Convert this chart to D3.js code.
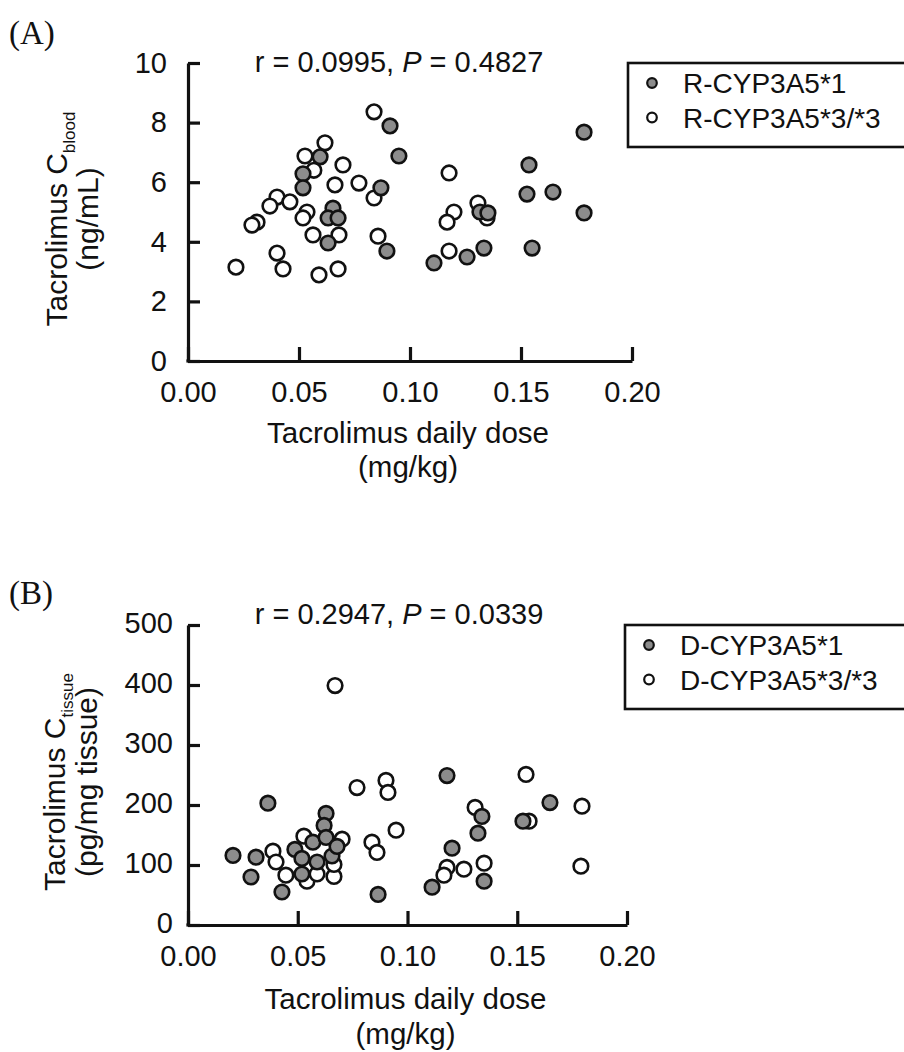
<!DOCTYPE html>
<html>
<head>
<meta charset="utf-8">
<script src="https://cdn.jsdelivr.net/npm/d3@7"></script>
<style>
  html, body { margin: 0; padding: 0; background: #fff; }
  svg { display: block; }
  text { font-family: "Liberation Sans", Arial, sans-serif; fill: #111; }
</style>
</head>
<body>
<svg id="chart" width="904" height="1052"></svg>
<script>
// ---------- DATA ----------
// Panel A: recipient genotype, blood concentration (ng/mL) vs daily dose (mg/kg)
const doseA_star1 = [0.0595,0.0518,0.0518,0.0653,0.0631,0.0676,0.0631,0.0910,0.0950,0.0869,0.0896,0.1108,0.1257,0.1333,0.1315,0.1351,0.1536,0.1527,0.1644,0.1550,0.1784,0.1784];
const concA_star1 = [6.85,6.28,5.81,5.13,4.80,4.80,3.96,7.89,6.88,5.81,3.69,3.29,3.49,3.79,5.00,4.97,6.58,5.60,5.67,3.79,7.68,4.97];
const doseA_star3 = [0.0617,0.0527,0.0567,0.0662,0.0401,0.0459,0.0369,0.0536,0.0518,0.0311,0.0288,0.0563,0.0401,0.0428,0.0216,0.0590,0.0676,0.0680,0.0838,0.0698,0.0770,0.0838,0.0856,0.1176,0.1306,0.1198,0.1167,0.1347,0.1176];
const concA_star3 = [7.32,6.88,6.40,5.91,5.50,5.34,5.20,5.00,4.80,4.66,4.56,4.23,3.62,3.09,3.15,2.89,3.09,4.23,8.36,6.58,5.97,5.47,4.19,6.31,5.30,5.00,4.66,4.80,3.69];

// Panel B: donor genotype, tissue concentration (pg/mg tissue) vs daily dose (mg/kg)
const doseB_star1 = [0.0364,0.0205,0.0310,0.0287,0.0428,0.0487,0.0569,0.0519,0.0519,0.0588,0.0629,0.0620,0.0629,0.0656,0.0679,0.0866,0.1180,0.1203,0.1112,0.1339,0.1321,0.1349,0.1526,0.1649];
const concB_star1 = [203,116,113,80,55,126,138,111,85,105,186,166,146,115,131,51,249,128,63,181,153,73,173,204];
const doseB_star3 = [0.0670,0.0387,0.0401,0.0446,0.0528,0.0542,0.0588,0.0665,0.0702,0.0665,0.0770,0.0902,0.0911,0.0948,0.0838,0.0861,0.1180,0.1166,0.1257,0.1308,0.1349,0.1540,0.1554,0.1795,0.1790];
const concB_star3 = [399,123,105,83,148,73,85,81,143,101,229,241,221,158,138,121,96,83,93,196,103,251,173,198,98];

const xTicks = [0, 0.05, 0.10, 0.15, 0.20];
const yTicksA = [0, 2, 4, 6, 8, 10];
const yTicksB = [0, 100, 200, 300, 400, 500];
const legendA = ["R-CYP3A5*1", "R-CYP3A5*3/*3"];
const legendB = ["D-CYP3A5*1", "D-CYP3A5*3/*3"];

// ---------- DRAW ----------
const svg = d3.select("#chart");
const FILL = "#8c8c8c";

function zip(xs, ys) { return xs.map((x, i) => ({ x: x, y: ys[i] })); }

function panel(cfg) {
  const x = d3.scaleLinear().domain([0, 0.2]).range([cfg.x0, cfg.x1]);
  const y = d3.scaleLinear().domain(cfg.yDomain).range([cfg.yb, cfg.yt]);
  const g = svg.append("g");

  // panel letter
  g.append("text").attr("x", 9).attr("y", cfg.letterY)
    .style("font-family", "'Liberation Serif', 'Times New Roman', serif")
    .style("font-size", "33px").text(cfg.letter);

  // y axis
  const ya = g.append("g").attr("transform", `translate(${cfg.x0},0)`)
    .call(d3.axisLeft(y).tickValues(cfg.yTicks).tickSizeInner(-12).tickSizeOuter(0)
      .tickPadding(cfg.yPad).tickFormat(d3.format("d")));
  ya.selectAll(".tick text").attr("dy", cfg.yDy);
  // x axis
  const xa = g.append("g").attr("transform", `translate(0,${cfg.yb})`)
    .call(d3.axisBottom(x).tickValues(xTicks).tickSizeInner(-14).tickSizeOuter(0)
      .tickPadding(cfg.xPad).tickFormat(d3.format(".2f")));
  [ya, xa].forEach(a => {
    a.select(".domain").attr("stroke", "#111").attr("stroke-width", 3.2);
    a.selectAll(".tick line").attr("stroke", "#111").attr("stroke-width", 3.2);
    a.selectAll("text").style("font-size", "29px").attr("fill", "#111")
      .style("font-family", "'Liberation Sans', Arial, sans-serif");
  });
  // clean corner
  g.append("line").attr("x1", cfg.x0 - 1.6).attr("x2", cfg.x0 + 1.6)
    .attr("y1", cfg.yb).attr("y2", cfg.yb).attr("stroke", "#111").attr("stroke-width", 3.2);

  // title
  const t = g.append("text").attr("x", 399).attr("y", cfg.titleY).attr("text-anchor", "middle")
    .style("font-size", "29px");
  t.append("tspan").text(cfg.titleR + ", ");
  t.append("tspan").style("font-style", "italic").text("P");
  t.append("tspan").text(" = " + cfg.titleP);

  // x label
  const cx = (cfg.x0 + cfg.x1) / 2 - 2;
  g.append("text").attr("x", cx).attr("y", cfg.xl1).attr("text-anchor", "middle")
    .style("font-size", "29.5px").text("Tacrolimus daily dose");
  g.append("text").attr("x", cx).attr("y", cfg.xl2).attr("text-anchor", "middle")
    .style("font-size", "29.5px").text("(mg/kg)");

  // y label
  const yl = g.append("text").attr("transform", `translate(${cfg.yl1},${cfg.ylc}) rotate(-90)`)
    .attr("text-anchor", "middle").style("font-size", "30px");
  yl.append("tspan").text("Tacrolimus C");
  yl.append("tspan").attr("dy", 8).style("font-size", "17px").text(cfg.sub);
  g.append("text").attr("transform", `translate(${cfg.yl2},${cfg.ylc}) rotate(-90)`)
    .attr("text-anchor", "middle").style("font-size", "30px").text(cfg.unit);

  // points
  const pts = g.append("g");
  pts.selectAll("circle.o").data(zip(cfg.dose3, cfg.conc3)).join("circle")
    .attr("class", "o").attr("cx", d => x(d.x)).attr("cy", d => y(d.y)).attr("r", 7.3)
    .attr("fill", "#fff").attr("stroke", "#111").attr("stroke-width", 2.6);
  pts.selectAll("circle.f").data(zip(cfg.dose1, cfg.conc1)).join("circle")
    .attr("class", "f").attr("cx", d => x(d.x)).attr("cy", d => y(d.y)).attr("r", 7.3)
    .attr("fill", FILL).attr("stroke", "#111").attr("stroke-width", 2.6);

  // legend
  const lg = g.append("g");
  lg.append("rect").attr("x", cfg.lgX).attr("y", cfg.lgY).attr("width", 290).attr("height", 84)
    .attr("fill", "none").attr("stroke", "#111").attr("stroke-width", 2.6);
  cfg.legend.forEach((lab, i) => {
    const cy = cfg.lgY + 20 + i * 34.5;
    lg.append("circle").attr("cx", cfg.lgX + 24).attr("cy", cy).attr("r", 4.8)
      .attr("fill", i === 0 ? FILL : "#fff").attr("stroke", "#111").attr("stroke-width", 2.2);
    lg.append("text").attr("x", cfg.lgX + 55).attr("y", cy + 10).style("font-size", "28px").text(lab);
  });
}

panel({
  letter: "(A)", letterY: 44,
  x0: 188, x1: 632, yt: 63, yb: 361, yDomain: [0, 10], yTicks: yTicksA,
  yPad: 21, xPad: 20, yDy: "0.32em",
  titleR: "r = 0.0995", titleP: "0.4827", titleY: 72,
  xl1: 443, xl2: 477,
  yl1: 67, yl2: 98, ylc: 219, sub: "blood", unit: "(ng/mL)",
  dose1: doseA_star1, conc1: concA_star1, dose3: doseA_star3, conc3: concA_star3,
  legend: legendA, lgX: 628, lgY: 63
});

panel({
  letter: "(B)", letterY: 604,
  x0: 188, x1: 627, yt: 625, yb: 925, yDomain: [0, 500], yTicks: yTicksB,
  yPad: 15, xPad: 20, yDy: "0.27em",
  titleR: "r = 0.2947", titleP: "0.0339", titleY: 624,
  xl1: 1009, xl2: 1044,
  yl1: 65, yl2: 97, ylc: 782, sub: "tissue", unit: "(pg/mg tissue)",
  dose1: doseB_star1, conc1: concB_star1, dose3: doseB_star3, conc3: concB_star3,
  legend: legendB, lgX: 625, lgY: 625
});
</script>
</body>
</html>
